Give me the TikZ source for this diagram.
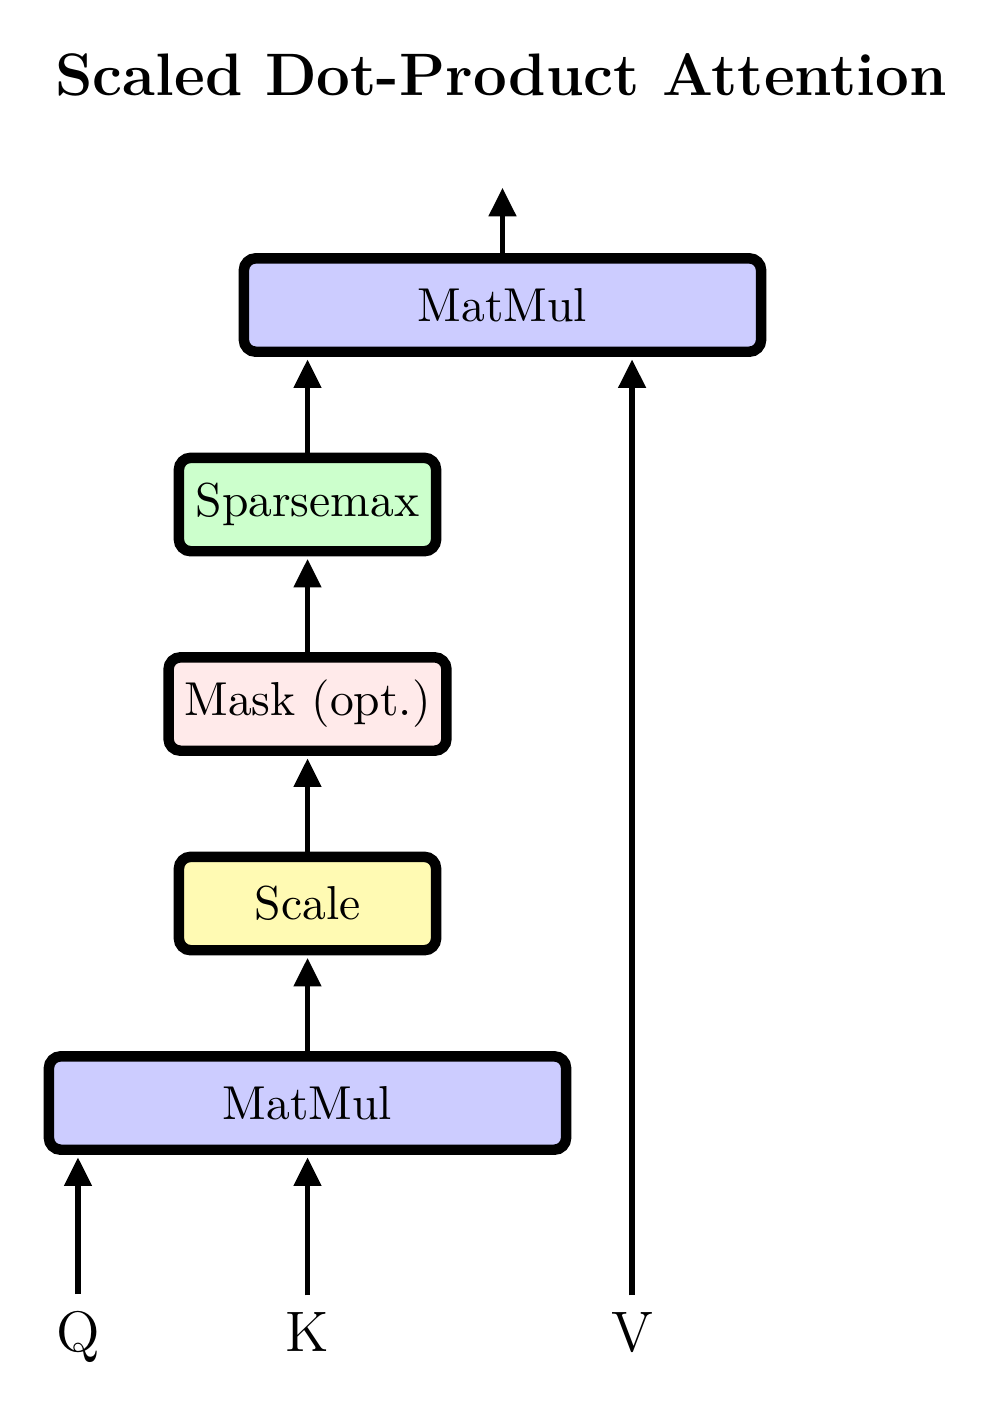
\documentclass[tikz,border=0pt]{standalone}
\usepackage{xcolor}
\definecolor{cMat}{HTML}{CCCCFF}
\definecolor{cScale}{HTML}{FFFAB3}
\definecolor{cMask}{HTML}{FFEAEA}
\definecolor{cSparse}{HTML}{CCFFCC}
\usepackage{tikz}
\usetikzlibrary{positioning,arrows.meta,calc}
\tikzset{
  op-box/.style={draw=black,line width=2.2pt,rounded corners=2.5pt,
    minimum height=0.69cm,minimum width=1.9cm,align=center,font=\normalsize},
  op-wide/.style={minimum width=3.82cm},
  op-mat/.style={fill=cMat},
  op-scale/.style={fill=cScale},
  op-mask/.style={fill=cMask},
  op-sparse/.style={fill=cSparse},
  % inputs Q/K/V sit on their baseline
  input-label/.style={anchor=base,font=\large},
  flow/.style={-{Triangle[length=6pt,width=5.6pt]},line width=1.2pt,
    shorten >=0.5pt},
}
\begin{document}
\begin{tikzpicture}[node distance=0.706cm]
  \useasboundingbox (0,0) rectangle (7.40,-10.487);
  \node[anchor=base,font=\fontsize{12.6}{15}\selectfont\bfseries] (title)
    at (3.70,-0.702) {Scaled Dot-Product Attention};
  \node[op-box,op-wide,op-mat] (mm1) at (2.271,-8.146) {MatMul};
  \node[op-box,op-scale,above=of mm1] (scale) {Scale};
  \node[op-box,op-mask,above=of scale] (mask) {Mask (opt.)};
  \node[op-box,op-sparse,above=of mask] (sparse) {Sparsemax};
  \node[op-box,op-wide,op-mat,above=of sparse,xshift=1.44cm] (mm2) {MatMul};
  \coordinate (out) at ($(mm2.north)+(0,0.5)$);
  \node[input-label] (q) at (0.576,-9.978) {Q};
  \node[input-label] (k) at (2.271,-9.978) {K};
  \node[input-label] (v) at (4.668,-9.978) {V};
  \draw[flow] (q.north) -- (q.north |- mm1.south);
  \draw[flow] (k.north) -- (mm1.south);
  \draw[flow] (v.north) -- (v.north |- mm2.south);
  \draw[flow] (mm1) -- (scale);
  \draw[flow] (scale) -- (mask);
  \draw[flow] (mask) -- (sparse);
  \draw[flow] (sparse.north) -- (sparse.north |- mm2.south);
  \draw[flow] (mm2) -- (out);
\end{tikzpicture}
\end{document}
